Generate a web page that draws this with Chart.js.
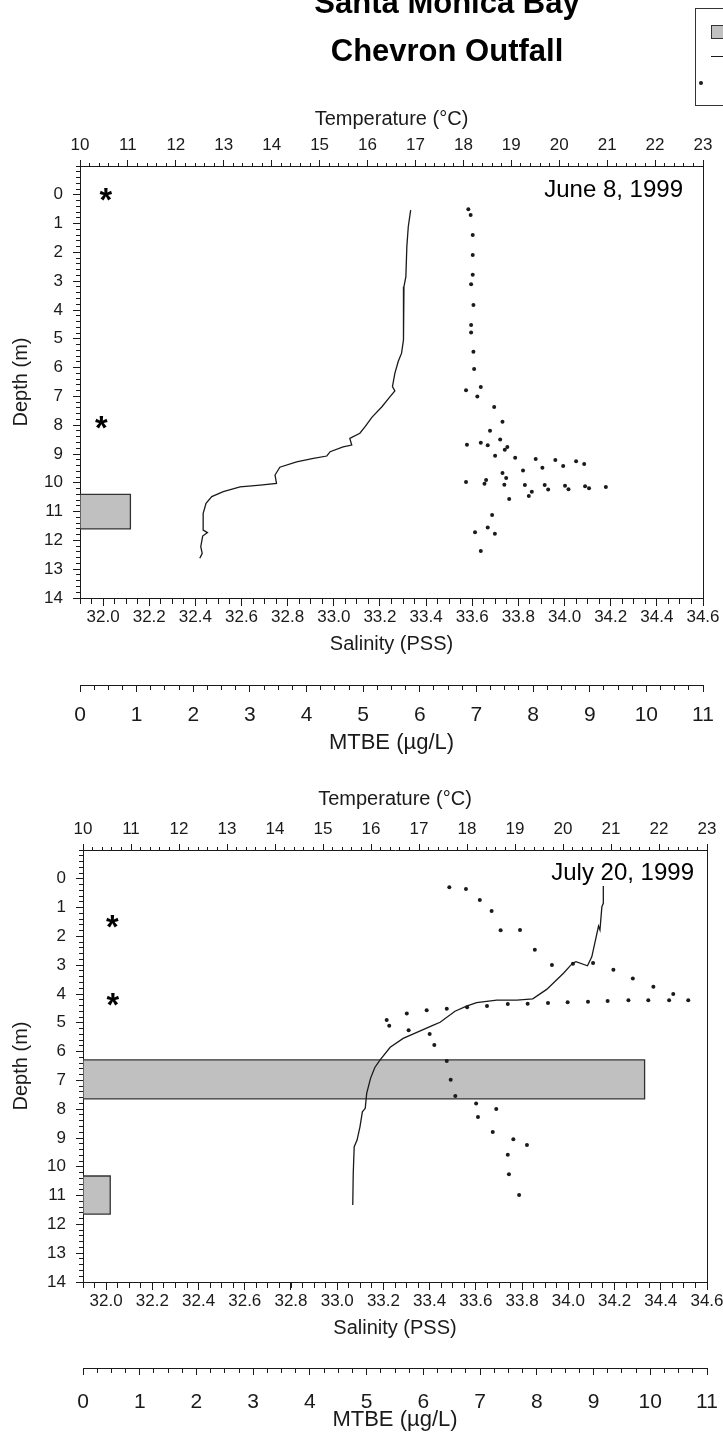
<!DOCTYPE html>
<html>
<head>
<meta charset="utf-8">
<title>Santa Monica Bay – Chevron Outfall</title>
<script src="https://cdn.jsdelivr.net/npm/chart.js@4.4.1/dist/chart.umd.min.js"></script>
<style>
  html, body { margin: 0; padding: 0; background: #fff; }
  #wrap { position: relative; width: 723px; height: 1435px; overflow: hidden; background: #fff; }
  #wrap canvas { position: absolute; left: 0; }
</style>
</head>
<body>
<div id="wrap">
  <canvas id="juneChart" width="723" height="770" style="top:0"></canvas>
  <canvas id="julyChart" width="723" height="665" style="top:770px"></canvas>
</div>
<script>
// ---- tick labels ----
const depthTicks = [0, 1, 2, 3, 4, 5, 6, 7, 8, 9, 10, 11, 12, 13, 14];
const tempTicks = [10, 11, 12, 13, 14, 15, 16, 17, 18, 19, 20, 21, 22, 23];
const salTicks = [32.0, 32.2, 32.4, 32.6, 32.8, 33.0, 33.2, 33.4, 33.6, 33.8, 34.0, 34.2, 34.4, 34.6];
const mtbeTicks = [0, 1, 2, 3, 4, 5, 6, 7, 8, 9, 10, 11];

// ---- June 8, 1999 ----
const juneTempDepth = [0.53, 1.11, 1.80, 2.84, 3.19, 4.12, 5.04, 5.50, 5.79, 6.20, 6.66, 6.81, 7.01, 7.36, 7.73, 8.05, 8.28, 8.46, 8.69, 8.75, 8.92, 9.07, 9.15, 9.27, 9.46, 9.73, 10.02, 10.08, 10.14, 10.31, 10.48, 10.71, 11.06, 11.64, 11.73, 11.85, 12.22, 12.45, 12.62];
const juneTemp = [16.90, 16.85, 16.82, 16.80, 16.76, 16.75, 16.75, 16.71, 16.64, 16.57, 16.52, 16.57, 16.47, 16.30, 16.09, 15.95, 15.84, 15.63, 15.67, 15.49, 15.22, 15.15, 14.87, 14.52, 14.17, 14.07, 14.10, 13.76, 13.34, 12.99, 12.75, 12.63, 12.57, 12.57, 12.66, 12.56, 12.52, 12.55, 12.50];

const juneSalDepth = [0.50, 0.70, 1.40, 2.09, 2.78, 3.11, 3.83, 4.52, 4.78, 5.45, 6.05, 6.79, 6.67, 7.00, 7.37, 7.88, 8.19, 8.50, 8.76, 8.85, 8.68, 8.61, 8.70, 9.06, 9.13, 9.17, 9.21, 9.25, 9.35, 9.42, 9.48, 9.57, 9.66, 9.83, 10.07, 9.90, 10.03, 9.97, 10.08, 10.08, 10.23, 10.10, 10.22, 10.12, 10.19, 10.15, 10.31, 10.46, 10.56, 11.12, 11.55, 11.72, 11.77, 12.37];
const juneSal = [33.583, 33.593, 33.602, 33.602, 33.602, 33.595, 33.605, 33.595, 33.595, 33.605, 33.608, 33.573, 33.637, 33.622, 33.695, 33.731, 33.677, 33.721, 33.752, 33.741, 33.577, 33.637, 33.667, 33.699, 33.786, 33.875, 33.960, 34.050, 34.085, 33.994, 33.904, 33.820, 33.731, 33.747, 33.739, 33.660, 33.653, 33.573, 33.828, 33.914, 33.929, 34.002, 34.017, 34.089, 34.106, 34.179, 33.858, 33.845, 33.760, 33.686, 33.667, 33.612, 33.698, 33.637];

const juneMtbeTop = [10.4];
const juneMtbeBottom = [11.6];
const juneMtbe = [0.89];

const juneStarDepth = [-0.02, 7.91];
const juneStarMtbe = [0.46, 0.38];

// ---- July 20, 1999 ----
const julyTempDepth = [0.25, 0.85, 0.97, 1.78, 1.64, 1.95, 2.71, 3.02, 2.88, 2.93, 3.28, 3.84, 4.17, 4.21, 4.21, 4.30, 4.42, 4.60, 4.98, 5.08, 5.54, 5.85, 6.29, 6.55, 6.93, 7.45, 7.97, 8.09, 8.61, 9.07, 9.30, 10.23, 11.33];
const julyTemp = [20.84, 20.84, 20.81, 20.77, 20.74, 20.70, 20.60, 20.51, 20.27, 20.20, 20.01, 19.66, 19.37, 19.04, 18.62, 18.20, 17.99, 17.75, 17.44, 17.30, 16.67, 16.40, 16.19, 16.08, 15.99, 15.91, 15.88, 15.82, 15.77, 15.71, 15.65, 15.63, 15.62];

const julySalDepth = [0.29, 0.35, 0.74, 1.12, 1.79, 1.78, 2.46, 2.99, 2.95, 2.92, 3.16, 3.46, 3.75, 4.00, 4.22, 4.22, 4.22, 4.22, 4.24, 4.27, 4.29, 4.31, 4.34, 4.35, 4.42, 4.46, 4.51, 4.56, 4.68, 4.90, 5.10, 5.26, 5.39, 5.77, 6.33, 6.98, 7.54, 7.80, 7.99, 8.27, 8.79, 9.04, 9.24, 9.58, 10.26, 10.98];
const julySal = [33.485, 33.557, 33.617, 33.668, 33.707, 33.791, 33.855, 33.929, 34.020, 34.107, 34.195, 34.279, 34.368, 34.454, 34.436, 34.519, 34.346, 34.260, 34.170, 34.085, 33.997, 33.912, 33.824, 33.738, 33.648, 33.562, 33.474, 33.387, 33.301, 33.214, 33.225, 33.309, 33.400, 33.420, 33.474, 33.491, 33.511, 33.601, 33.688, 33.609, 33.673, 33.762, 33.821, 33.738, 33.743, 33.787];

const julyMtbeTop = [6.29, 10.32];
const julyMtbeBottom = [7.64, 11.64];
const julyMtbe = [9.9, 0.48];

const julyStarDepth = [1.47, 4.19];
const julyStarMtbe = [0.52, 0.53];

// ---- drawing ----
const FONT = '"Liberation Sans", Arial, Helvetica, sans-serif';
const INK = '#1a1a1a';
Chart.defaults.font.family = FONT;
Chart.defaults.color = INK;

function zip(xs, ys) { return xs.map((x, i) => ({ x: x, y: ys[i] })); }

// closed outline of one MTBE sample bar, from 0 out to its value over its depth interval
function barOutline(top, bottom, value) {
  return [{ x: 0, y: top }, { x: value, y: top }, { x: value, y: bottom }, { x: 0, y: bottom }, { x: 0, y: top }];
}

function align(p) { return Math.round(p - 0.5) + 0.5; }

// short tick marks between the labelled ticks
const minorTicks = {
  id: 'minorTicks',
  afterDraw(chart, args, opts) {
    const ctx = chart.ctx;
    ctx.save();
    ctx.strokeStyle = INK;
    ctx.lineWidth = 1;
    ctx.beginPath();
    Object.keys(opts.axes).forEach(id => {
      const spec = opts.axes[id];
      const s = chart.scales[id];
      const k0 = Math.ceil(s.min / spec.step - 1e-6);
      const k1 = Math.floor(s.max / spec.step + 1e-6);
      for (let k = k0; k <= k1; k++) {
        const p = align(s.getPixelForValue(k * spec.step));
        if (s.position === 'top') { ctx.moveTo(p, s.bottom); ctx.lineTo(p, s.bottom - spec.len); }
        else if (s.position === 'bottom') { ctx.moveTo(p, s.top); ctx.lineTo(p, s.top + spec.len); }
        else if (s.position === 'left') { ctx.moveTo(s.right, p); ctx.lineTo(s.right - spec.len, p); }
      }
    });
    ctx.stroke();
    ctx.restore();
  }
};

// date caption and asterisk markers
const annotations = {
  id: 'annotations',
  afterDatasetsDraw(chart, args, opts) {
    const ctx = chart.ctx;
    const area = chart.chartArea;
    ctx.save();
    ctx.fillStyle = '#000';
    ctx.font = '24px ' + FONT;
    ctx.textAlign = 'right';
    ctx.textBaseline = 'middle';
    ctx.fillText(opts.date, area.right - opts.dateRight, area.top + opts.dateTop);

    chart.data.datasets.forEach((ds, i) => {
      if (!ds.asterisk) return;
      ctx.font = 'bold 40px ' + FONT;
      const m0 = ctx.measureText('*');
      const h0 = m0.actualBoundingBoxAscent + m0.actualBoundingBoxDescent;
      const size = 40 * 13 / h0;
      ctx.font = 'bold ' + size.toFixed(2) + 'px ' + FONT;
      ctx.textAlign = 'left';
      ctx.textBaseline = 'alphabetic';
      const m = ctx.measureText('*');
      const w = m.actualBoundingBoxRight - m.actualBoundingBoxLeft;
      chart.getDatasetMeta(i).data.forEach(pt => {
        const x0 = pt.x - w / 2 + m.actualBoundingBoxLeft;
        const y0 = pt.y + (m.actualBoundingBoxAscent - m.actualBoundingBoxDescent) / 2;
        ctx.fillText('*', x0, y0);
      });
    });
    ctx.restore();
  }
};

// page heading and the key box at the upper right
const heading = {
  id: 'heading',
  afterDraw(chart) {
    const ctx = chart.ctx;
    ctx.save();
    ctx.fillStyle = '#000';
    ctx.font = 'bold 31px ' + FONT;
    ctx.textAlign = 'center';
    ctx.textBaseline = 'alphabetic';
    ctx.fillText('Santa Monica Bay', 447, 13);
    ctx.fillText('Chevron Outfall', 447, 61);

    ctx.strokeStyle = '#333';
    ctx.lineWidth = 1;
    ctx.strokeRect(695.5, 8.5, 60, 97);
    ctx.fillStyle = '#c0c0c0';
    ctx.fillRect(711, 25, 20, 13);
    ctx.strokeRect(711.5, 25.5, 20, 13);
    ctx.beginPath();
    ctx.moveTo(711, 56.5);
    ctx.lineTo(740, 56.5);
    ctx.strokeStyle = INK;
    ctx.stroke();
    ctx.beginPath();
    ctx.arc(701, 83, 2, 0, Math.PI * 2);
    ctx.fillStyle = INK;
    ctx.fill();
    ctx.restore();
  }
};

function tickSetter(values) {
  return scale => { scale.ticks = values.map(v => ({ value: v })); };
}
function gridOpts(len) {
  return { display: true, drawOnChartArea: false, drawTicks: true, tickLength: len, color: INK, lineWidth: 1 };
}
const borderOpts = { display: true, color: INK, width: 1 };

function makeChart(canvasId, d, g, extraPlugins) {
  const datasets = [];
  d.mtbe.forEach((v, i) => {
    datasets.push({
      label: 'MTBE',
      xAxisID: 'mtbe', yAxisID: 'depth',
      data: barOutline(d.mtbeTop[i], d.mtbeBottom[i], v),
      showLine: true, fill: 'shape', tension: 0,
      backgroundColor: '#c0c0c0', borderColor: '#333', borderWidth: 1.3,
      pointRadius: 0, order: 3
    });
  });
  datasets.push({
    label: 'Temperature',
    xAxisID: 'temp', yAxisID: 'depth',
    data: zip(d.temp, d.tempDepth),
    showLine: true, fill: false, tension: 0,
    borderColor: INK, borderWidth: 1.3, pointRadius: 0, order: 1
  });
  datasets.push({
    label: 'Salinity',
    xAxisID: 'sal', yAxisID: 'depth',
    data: zip(d.sal, d.salDepth),
    showLine: false,
    pointRadius: 2, pointBackgroundColor: INK, pointBorderWidth: 0, order: 0
  });
  datasets.push({
    label: 'MTBE marker',
    xAxisID: 'mtbe', yAxisID: 'depth',
    data: zip(d.starMtbe, d.starDepth),
    showLine: false, pointRadius: 0, asterisk: true, order: 0
  });

  return new Chart(document.getElementById(canvasId), {
    type: 'scatter',
    data: { datasets: datasets },
    options: {
      responsive: false,
      animation: false,
      devicePixelRatio: 1,
      events: [],
      layout: { padding: { top: g.padTop, left: 0, right: 0, bottom: 0 } },
      plugins: {
        legend: { display: false },
        tooltip: { enabled: false },
        minorTicks: {
          axes: {
            depth: { step: 0.2, len: 4 },
            temp: { step: 0.2, len: 3 },
            sal: { step: 0.05, len: 6 },
            mtbe: { step: 0.25, len: 5 }
          }
        },
        annotations: { date: d.date, dateRight: g.dateRight, dateTop: g.dateTop }
      },
      scales: {
        depth: {
          type: 'linear', position: 'left', min: -1, max: 14, reverse: true,
          afterBuildTicks: tickSetter(depthTicks),
          afterFit: s => { s.width = g.left; },
          ticks: { font: { size: 17 }, color: INK, padding: 10, autoSkip: false },
          grid: gridOpts(7), border: borderOpts,
          title: { display: true, text: 'Depth (m)', font: { size: 20 }, color: INK, padding: { top: 9, bottom: 0 } }
        },
        frame: {
          type: 'linear', position: 'right', min: -1, max: 14, reverse: true,
          afterFit: s => { s.width = 723 - g.right; },
          ticks: { display: false }, grid: { display: false }, border: borderOpts
        },
        temp: {
          type: 'linear', position: 'top', min: 10, max: 23,
          afterBuildTicks: tickSetter(tempTicks),
          afterFit: s => { s.height = g.top - g.padTop; s.paddingLeft = 0; s.paddingRight = 0; },
          ticks: { font: { size: 17 }, color: INK, padding: 4, autoSkip: false, maxRotation: 0, minRotation: 0 },
          grid: gridOpts(6), border: borderOpts,
          title: { display: true, text: 'Temperature (°C)', font: { size: 20 }, color: INK, padding: { top: g.tempTitlePad, bottom: 0 } }
        },
        sal: {
          type: 'linear', position: 'bottom', weight: 0, min: 31.9, max: 34.6,
          afterBuildTicks: tickSetter(salTicks),
          afterFit: s => { s.height = g.salH; s.paddingLeft = 0; s.paddingRight = 0; },
          ticks: { font: { size: 17 }, color: INK, padding: 1, autoSkip: false, maxRotation: 0, minRotation: 0,
                   callback: v => Number(v).toFixed(1) },
          grid: gridOpts(8), border: borderOpts,
          title: { display: true, text: 'Salinity (PSS)', font: { size: 20 }, color: INK, padding: { top: 0, bottom: g.salTitlePad } }
        },
        mtbe: {
          type: 'linear', position: 'bottom', weight: 1, min: 0, max: 11,
          afterBuildTicks: tickSetter(mtbeTicks),
          afterFit: s => { s.height = g.mtbeH; s.paddingLeft = 0; s.paddingRight = 0; },
          ticks: { font: { size: 21 }, color: INK, padding: g.mtbeTickPad, autoSkip: false, maxRotation: 0, minRotation: 0 },
          grid: gridOpts(7), border: borderOpts,
          title: { display: true, text: 'MTBE (µg/L)', font: { size: 22 }, color: INK, padding: { top: 0, bottom: g.mtbeTitlePad } }
        }
      }
    },
    plugins: [minorTicks, annotations].concat(extraPlugins)
  });
}

makeChart('juneChart', {
  date: 'June 8, 1999',
  tempDepth: juneTempDepth, temp: juneTemp,
  salDepth: juneSalDepth, sal: juneSal,
  mtbeTop: juneMtbeTop, mtbeBottom: juneMtbeBottom, mtbe: juneMtbe,
  starDepth: juneStarDepth, starMtbe: juneStarMtbe
}, {
  padTop: 95, top: 166, left: 80, right: 703,
  tempTitlePad: 12, salH: 87, salTitlePad: 29,
  mtbeH: 85, mtbeTickPad: 10.4, mtbeTitlePad: 13.8,
  dateRight: 20, dateTop: 24
}, [heading]);

makeChart('julyChart', {
  date: 'July 20, 1999',
  tempDepth: julyTempDepth, temp: julyTemp,
  salDepth: julySalDepth, sal: julySal,
  mtbeTop: julyMtbeTop, mtbeBottom: julyMtbeBottom, mtbe: julyMtbe,
  starDepth: julyStarDepth, starMtbe: julyStarMtbe
}, {
  padTop: 0, top: 80, left: 83, right: 707,
  tempTitlePad: 17, salH: 86, salTitlePad: 28,
  mtbeH: 67, mtbeTickPad: 14.4, mtbeTitlePad: 1.8,
  dateRight: 13, dateTop: 23
}, []);
</script>
</body>
</html>
